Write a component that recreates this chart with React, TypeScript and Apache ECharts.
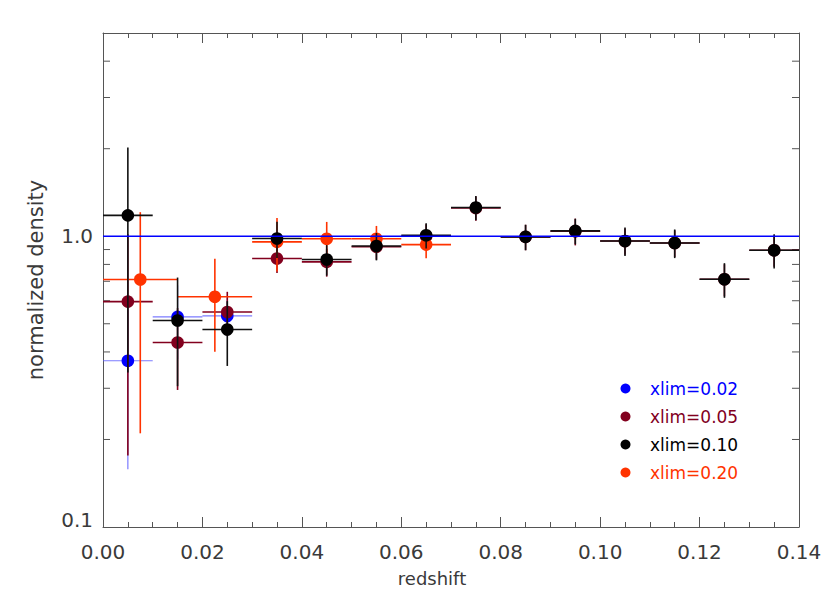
import React, { useEffect, useRef } from 'react';
import * as echarts from 'echarts';

// ---- data ----
const xTickLabels = ['0.00', '0.02', '0.04', '0.06', '0.08', '0.10', '0.12', '0.14'];
const yMinorTickValues = [0.2, 0.3, 0.4, 0.5, 0.6, 0.7, 0.8, 0.9, 2, 3, 4];

// xlim=0.02 (blue)
const blueX = [0.005, 0.015, 0.025];
const blueLo = [0.0, 0.01, 0.02];
const blueHi = [0.01, 0.02, 0.03];
const blueY = [0.373, 0.528, 0.532];
const blueErr = [0.215, 0.15, 0.08];

// xlim=0.05 (maroon)
const maroonX = [0.005, 0.015, 0.025, 0.035, 0.045, 0.055, 0.065, 0.075, 0.085, 0.095, 0.105, 0.115, 0.125, 0.135];
const maroonLo = [0.0, 0.01, 0.02, 0.03, 0.04, 0.05, 0.06, 0.07, 0.08, 0.09, 0.1, 0.11, 0.12, 0.13];
const maroonHi = [0.01, 0.02, 0.03, 0.04, 0.05, 0.06, 0.07, 0.08, 0.09, 0.1, 0.11, 0.12, 0.13, 0.14];
const maroonY = [0.596, 0.431, 0.549, 0.838, 0.816, 0.92, 1.0, 1.25, 0.995, 1.04, 0.963, 0.948, 0.711, 0.895];
const maroonErr = [0.42, 0.135, 0.095, 0.09, 0.09, 0.09, 0.1, 0.12, 0.1, 0.11, 0.1, 0.1, 0.09, 0.11];

// xlim=0.20 (red)
const redX = [0.0075, 0.0225, 0.035, 0.045, 0.055, 0.065];
const redLo = [0.0, 0.015, 0.03, 0.04, 0.05, 0.06];
const redHi = [0.015, 0.03, 0.04, 0.05, 0.06, 0.07];
const redY = [0.71, 0.619, 0.956, 0.98, 0.98, 0.936];
const redErr = [0.5, 0.218, 0.2, 0.14, 0.105, 0.096];

// xlim=0.10 (black)
const blackX = [0.005, 0.015, 0.025, 0.035, 0.045, 0.055, 0.065, 0.075, 0.085, 0.095, 0.105, 0.115, 0.125, 0.135];
const blackLo = [0.0, 0.01, 0.02, 0.03, 0.04, 0.05, 0.06, 0.07, 0.08, 0.09, 0.1, 0.11, 0.12, 0.13];
const blackHi = [0.01, 0.02, 0.03, 0.04, 0.05, 0.06, 0.07, 0.08, 0.09, 0.1, 0.11, 0.12, 0.13, 0.14];
const blackY = [1.18, 0.513, 0.478, 0.982, 0.832, 0.926, 1.008, 1.255, 0.995, 1.043, 0.963, 0.948, 0.711, 0.895];
const blackErr = [0.84, 0.208, 0.12, 0.14, 0.1, 0.1, 0.1, 0.12, 0.1, 0.105, 0.108, 0.107, 0.097, 0.12];

const referenceLevel = [1.0, 1.0];
const referenceX = [0.0, 0.14];

const FONT = "'DejaVu Sans', sans-serif";
const AXIS_COLOR = '#555555';
const TEXT_COLOR = '#3a3a3a';

function build(x: number[], lo: number[], hi: number[], y: number[], e: number[]) {
  return x.map((v, i) => [v, y[i], lo[i], hi[i], e[i]]);
}

function makeRender(fill: string, bar: string, lw: number, barOpacity = 1) {
  return (params: any, api: any) => {
    const x = api.value(0);
    const y = api.value(1);
    const xl = api.value(2);
    const xh = api.value(3);
    const e = api.value(4);
    const c = api.coord([x, y]);
    const l = api.coord([xl, y]);
    const r = api.coord([xh, y]);
    const t = api.coord([x, y + e]);
    const b = api.coord([x, y - e]);
    return {
      type: 'group',
      children: [
        { type: 'line', shape: { x1: l[0], y1: l[1], x2: r[0], y2: r[1] }, style: { stroke: bar, lineWidth: lw, opacity: barOpacity } },
        { type: 'line', shape: { x1: t[0], y1: t[1], x2: b[0], y2: b[1] }, style: { stroke: bar, lineWidth: lw, opacity: barOpacity } },
        { type: 'circle', shape: { cx: c[0], cy: c[1], r: 6.3 }, style: { fill } },
      ],
    };
  };
}

const BLUE = '#0000ff';
const MAROON = '#82001e';
const RED = '#ff3300';
const BLACK = '#000000';

export default function App() {
  const ref = useRef<HTMLDivElement>(null);
  useEffect(() => {
    if (!ref.current) return;
    const chart = echarts.init(ref.current, undefined, { renderer: 'svg' });
    const xAxisCommon = {
      type: 'value',
      min: 0,
      max: 0.14,
      interval: 0.02,
      axisLine: { show: true, onZero: false, lineStyle: { color: AXIS_COLOR, width: 1 } },
      axisTick: { show: true, inside: true, length: 10, lineStyle: { color: AXIS_COLOR } },
      minorTick: { show: true, splitNumber: 4, length: 5, lineStyle: { color: AXIS_COLOR } },
      splitLine: { show: false },
    };
    const yAxisCommon = {
      type: 'log',
      logBase: 10,
      min: 0.1,
      max: 5,
      axisLine: { show: true, onZero: false, lineStyle: { color: AXIS_COLOR, width: 1 } },
      axisTick: { show: true, inside: true, length: 14, lineStyle: { color: AXIS_COLOR } },
      minorTick: { show: false },
      splitLine: { show: false },
    };
    chart.setOption({
      animation: false,
      backgroundColor: '#ffffff',
      grid: { left: 103, right: 31, top: 33, bottom: 66 },
      xAxis: [
        {
          ...xAxisCommon,
          position: 'bottom',
          name: 'redshift',
          nameLocation: 'middle',
          nameGap: 42,
          nameTextStyle: { fontFamily: FONT, fontSize: 18, color: TEXT_COLOR, padding: [0, 38, 0, 0] },
          axisLabel: {
            show: true,
            margin: 15,
            fontFamily: FONT,
            fontSize: 20,
            color: TEXT_COLOR,
            formatter: (v: number) => {
              const idx = Math.round(v / 0.02);
              return xTickLabels[idx] ?? '';
            },
          },
        },
        { ...xAxisCommon, position: 'top', axisLabel: { show: false } },
      ],
      yAxis: [
        {
          ...yAxisCommon,
          position: 'left',
          name: 'normalized density',
          nameLocation: 'middle',
          nameGap: 57,
          nameTextStyle: { fontFamily: FONT, fontSize: 21, color: TEXT_COLOR },
          axisLabel: {
            show: true,
            margin: 10,
            fontFamily: FONT,
            fontSize: 20,
            color: TEXT_COLOR,
            formatter: (v: number) => {
              if (Math.abs(v - 0.1) < 1e-9) return '{b|0.1}';
              if (Math.abs(v - 1) < 1e-9) return '{a|1.0}';
              return '';
            },
            rich: {
              a: { fontFamily: FONT, fontSize: 20, color: TEXT_COLOR },
              b: { fontFamily: FONT, fontSize: 20, color: TEXT_COLOR, padding: [0, 0, 14, 0] },
            },
          },
        },
        { ...yAxisCommon, position: 'right', axisLabel: { show: false } },
      ],
      legend: {
        show: true,
        orient: 'vertical',
        left: 615.5,
        top: 375,
        itemWidth: 39,
        itemHeight: 10,
        itemGap: 11,
        icon: 'circle',
        textStyle: { fontFamily: FONT, fontSize: 17 },
        data: [
          { name: 'xlim=0.02', textStyle: { color: BLUE } },
          { name: 'xlim=0.05', textStyle: { color: MAROON } },
          { name: 'xlim=0.10', textStyle: { color: BLACK } },
          { name: 'xlim=0.20', textStyle: { color: RED } },
        ],
      },
      series: [
        {
          type: 'custom',
          name: 'minorY',
          silent: true,
          renderItem: (params: any, api: any) => {
            const v = api.value(0);
            const l = api.coord([0, v]);
            const r = api.coord([0.14, v]);
            return {
              type: 'group',
              children: [
                { type: 'line', shape: { x1: l[0], y1: l[1], x2: l[0] + 7, y2: l[1] }, style: { stroke: AXIS_COLOR, lineWidth: 1 } },
                { type: 'line', shape: { x1: r[0], y1: r[1], x2: r[0] - 7, y2: r[1] }, style: { stroke: AXIS_COLOR, lineWidth: 1 } },
              ],
            };
          },
          data: yMinorTickValues.map((v) => [v]),
          encode: { y: 0 },
        },
        {
          type: 'custom',
          name: 'xlim=0.02',
          itemStyle: { color: BLUE },
          renderItem: makeRender(BLUE, '#5a5aff', 1.2, 0.8),
          data: build(blueX, blueLo, blueHi, blueY, blueErr),
          encode: { x: 0, y: 1 },
          clip: true,
        },
        {
          type: 'custom',
          name: 'xlim=0.05',
          itemStyle: { color: MAROON },
          renderItem: makeRender(MAROON, MAROON, 1.6),
          data: build(maroonX, maroonLo, maroonHi, maroonY, maroonErr),
          encode: { x: 0, y: 1 },
          clip: true,
        },
        {
          type: 'custom',
          name: 'xlim=0.20',
          itemStyle: { color: RED },
          renderItem: makeRender(RED, RED, 1.6),
          data: build(redX, redLo, redHi, redY, redErr),
          encode: { x: 0, y: 1 },
          clip: true,
        },
        {
          type: 'custom',
          name: 'xlim=0.10',
          itemStyle: { color: BLACK },
          renderItem: makeRender(BLACK, '#111111', 1.6),
          data: build(blackX, blackLo, blackHi, blackY, blackErr),
          encode: { x: 0, y: 1 },
          clip: true,
        },
        {
          type: 'line',
          name: 'reference',
          silent: true,
          symbol: 'none',
          lineStyle: { color: BLUE, width: 1.5 },
          data: referenceX.map((x, i) => [x, referenceLevel[i]]),
        },
      ],
    });
    return () => chart.dispose();
  }, []);
  return <div ref={ref} style={{ position: 'fixed', left: 0, top: 0, width: 830, height: 593 }} />;
}
